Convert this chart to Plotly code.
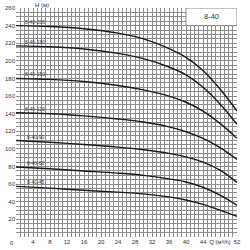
import plotly.graph_objects as go

Q = [0, 8, 16, 24, 30, 36, 40, 44, 48, 52]
curves = {
    "8-40-200": [240, 239, 236.5, 231.5, 225, 214, 204, 189, 168, 143],
    "8-40-180": [217, 216, 213.5, 208.5, 202.5, 193, 184, 170, 151, 128],
    "8-40-150": [180, 179, 176.5, 172, 167, 160, 153, 143, 129, 112],
    "8-40-120": [141, 140, 137.5, 134, 130.5, 125, 119.5, 112, 101.5, 88],
    "8-40-90": [109.5, 107.5, 105, 102, 99, 95, 91, 85, 76, 62],
    "8-40-60": [79.5, 77.5, 75, 72.5, 70, 66, 62.5, 56.5, 47.5, 36],
    "8-40-45": [57.5, 55.5, 53, 51, 49, 45.5, 42, 37, 30.5, 23.5],
}
x_tickvals = [4, 8, 12, 16, 20, 24, 28, 32, 36, 40, 44, 48, 52]
x_ticktext = ["4", "8", "12", "16", "20", "24", "28", "32", "36", "40", "44", "Q (м³/h)", "52"]
y_tickvals = list(range(20, 261, 20))
title_box = "8-40"

fig = go.Figure()
for name, h in curves.items():
    fig.add_trace(go.Scatter(x=Q, y=h, mode="lines", line=dict(color="#1a1a1a", width=1.4, shape="spline", smoothing=1.0),
                             showlegend=False, hoverinfo="skip"))
    fig.add_annotation(x=4.5, y=h[0], xref="x", yref="y", text=name, showarrow=False,
                       yanchor="bottom", xanchor="center", yshift=-1,
                       font=dict(size=5, color="#333", family="Liberation Sans"))

fig.add_shape(type="rect", x0=40, x1=52, y0=240, y1=260, xref="x", yref="y",
              fillcolor="white", line=dict(color="#888", width=1), layer="above")
fig.add_annotation(x=46, y=250, xref="x", yref="y", text=title_box, showarrow=False,
                   font=dict(size=7.5, color="#333", family="Liberation Sans"))
fig.add_annotation(x=0, y=0, xref="x", yref="paper", text="0", showarrow=False,
                   yanchor="top", xanchor="center", xshift=-4, yshift=-1,
                   font=dict(size=6, color="#333", family="Liberation Sans"))
fig.add_annotation(x=26 / 221, y=1.0 + 3 / 236, xref="paper", yref="paper", xanchor="center", yanchor="middle",
                   text="H (м)", showarrow=False, font=dict(size=6, color="#333", family="Liberation Sans"))

grid = "#8c8c8c"
fig.update_layout(
    width=250, height=250, margin=dict(l=16, r=13, t=5, b=9),
    paper_bgcolor="white", plot_bgcolor="white",
    font=dict(family="Liberation Sans", size=6, color="#333"),
    xaxis=dict(range=[0, 52], tickvals=x_tickvals, ticktext=x_ticktext, showgrid=True, gridcolor=grid, gridwidth=1,
               minor=dict(dtick=1, tick0=0, showgrid=True, gridcolor=grid, gridwidth=1),
               zeroline=False, showline=False, mirror=False, ticks="", ticklen=0, tickfont=dict(size=6, color="#333"),
               side="bottom", fixedrange=True),
    yaxis=dict(range=[0, 260], tickvals=y_tickvals, showgrid=True, gridcolor=grid, gridwidth=1,
               minor=dict(dtick=5, tick0=0, showgrid=True, gridcolor=grid, gridwidth=1),
               zeroline=False, showline=False, mirror=False, ticks="", ticklen=0, tickfont=dict(size=6, color="#333"),
               side="left", fixedrange=True),
)
fig.write_html("out.html")
